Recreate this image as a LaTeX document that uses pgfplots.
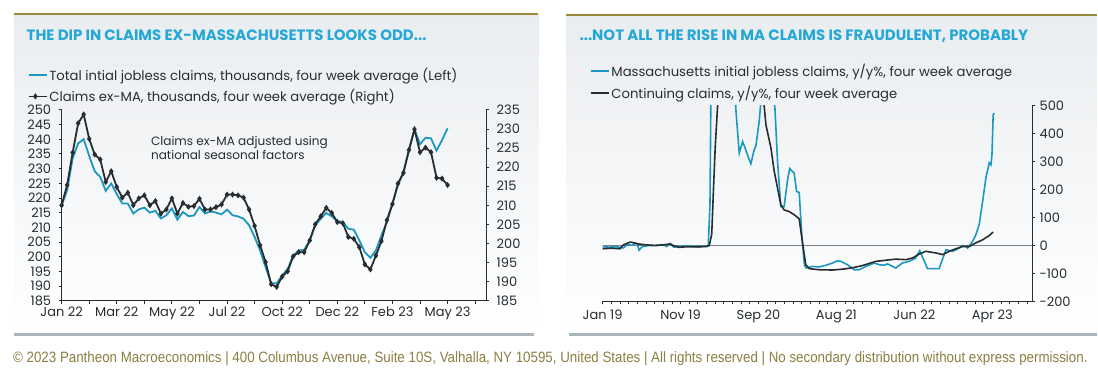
\documentclass[border=0pt]{standalone}
\usepackage{pgfplots}
\pgfplotsset{compat=1.18}
\usepackage{pgfplotstable}
\usepackage{fontspec}
\setmainfont{Poppins}
\newfontfamily\footfont[FakeStretch=0.89]{Liberation Sans}
\definecolor{mablue}{HTML}{1B98C0}
\definecolor{exma}{HTML}{272D31}
\definecolor{ttl}{HTML}{25A8D6}
\definecolor{olive}{HTML}{9A8B3C}
\definecolor{panel}{HTML}{EAEDF0}
\definecolor{rulec}{HTML}{A9B5BD}
\definecolor{foot}{HTML}{8C7F42}
\definecolor{zeroc}{HTML}{7B8085}

\pgfplotstableread{
k v
0 217.5
1 222.6
2 233.5
3 238.6
4 240.0
5 234.3
6 229.1
7 227.2
8 222.4
9 224.9
10 221.3
11 218.1
12 218.1
13 214.7
14 216.1
15 216.7
16 215.0
17 215.6
18 213.0
19 214.1
20 216.4
21 212.6
22 215.2
23 213.8
24 214.0
25 216.9
26 214.7
27 215.4
28 215.0
29 214.4
30 216.0
31 214.1
32 213.7
33 212.9
34 210.7
35 206.7
36 202.1
37 196.4
38 190.9
39 190.9
40 193.6
41 195.8
42 200.4
43 202.1
44 202.3
45 205.5
46 210.7
47 212.9
48 214.9
49 213.7
50 212.1
51 211.8
52 209.5
53 209.2
54 205.5
55 201.5
56 199.6
57 202.1
58 207.2
59 211.8
60 218.1
61 224.3
62 228.9
63 236.3
64 243.4
65 238.3
66 240.5
67 240.3
68 236.1
69 239.7
70 243.7
}\totaltab

\pgfplotstableread{
k v
0 210.0
1 215.3
2 223.8
3 231.5
4 233.8
5 227.4
6 223.3
7 222.0
8 216.1
9 218.9
10 214.8
11 212.0
12 213.3
13 210.0
14 211.8
15 212.6
16 210.0
17 211.1
18 207.8
19 208.9
20 211.8
21 207.8
22 210.6
23 209.6
24 209.8
25 211.7
26 208.9
27 208.9
28 209.5
29 210.2
30 212.8
31 212.8
32 212.6
33 212.0
34 208.9
35 204.6
36 199.5
37 195.1
38 189.3
39 188.6
40 191.3
41 192.7
42 196.6
43 197.7
44 197.7
45 200.8
46 205.0
47 207.1
48 209.3
49 208.0
50 205.6
51 205.3
52 201.7
53 201.2
54 199.0
55 194.5
56 193.2
57 196.8
58 200.6
59 206.1
60 210.3
61 215.7
62 218.5
63 224.5
64 229.9
65 223.9
66 225.1
67 223.9
68 217.2
69 217.0
70 215.3
}\exmatab

\pgfplotstableread{
w v
0 -5
4 -6
8 -5
12 -9
14 2
17 1
19 7
20 5
21 -17
23 -4
27 0
30 -1
35 2
37 -4
39 7
41 -6
45 -3
50 -2
55 -5
59 -3
61 -1
62 150
63 900
65 1500
70 1600
74 1000
75.5 700
77 480
78.9 330
80.8 371
82.3 348
84.3 312
85.6 292
87.5 342
88.5 355
90.4 443
92 560
95 620
98 560
99.5 490
101 300
102.9 139
104.8 139
106.8 235
108 275
110.6 258
112 193
113.5 189
115 40
116.5 -70
117.5 -81
121.2 -75
125 -77
128.9 -71
132.7 -63
135.6 -55
137.6 -57
141.4 -69
145.3 -87
148.1 -87
152 -75
156.8 -63
159.7 -69
162.6 -71
164.5 -66
169.3 -81
173.1 -63
177 -57
180.8 -45
183.1 -19
187.6 -83
194.3 -83
198.2 -15.5
202.1 -21
204 -15.5
205.9 -9.5
207.8 0
209.8 -3.6
210.7 -9.5
213.6 14
215.5 38
217.4 74
219.4 157
221.3 241
223.2 295
224.2 288
224.8 324
225.5 467
226.1 473
}\matab

\pgfplotstableread{
w v
0 -12
5 -10
10 -12
12 2
16 12
19 8
21 5
25 2
30 0
35 2
39 5
41 -1
44 -7
48 -5
55 -5
60 -4
61.6 0
63 40
64 200
65 350
66.4 500
68 750
75 1000
85 900
90 700
92.5 550
94.3 431
97.2 348
99.1 264
101 205
102.9 145
104.8 127
107.7 121
110.6 110
113.5 95
115.4 10
117.3 -69
119.3 -83
125 -87
132.7 -88
138.5 -85
144.3 -80
150 -72
157.8 -57
163.5 -53
169.3 -49
175.1 -51
178.9 -45
182.8 -31
186.6 -21
192.4 -27
196.3 -33
200.1 -21
204 -12
207.8 -4
211.7 -4
215.5 9
219.4 20
223.2 35
225.5 48
}\conttab

\pgfplotsset{
  every axis/.append style={
    scale only axis,
    tick align=outside,
    major tick length=3pt, minor tick length=3pt,
    axis line style={exma, line width=0.9pt, -},
    every tick/.style={exma, line width=0.8pt},
    ticklabel style={font=\fontsize{13}{15}\selectfont, text=exma},
    /pgf/number format/assume math mode=true,
    /pgf/number format/1000 sep={},
  },
  mylegend/.style={
    legend cell align=left,
    legend style={draw=none, fill=none, inner sep=0pt, row sep=5pt,
      font=\fontsize{13.2}{15}\selectfont, text=exma,
      nodes={inner sep=1.5pt}},
    legend image code/.code={\path (0pt,0pt) -- (18pt,0pt);\draw[mark repeat=2,mark phase=2,##1] plot coordinates {(0pt,0pt) (6.5pt,0pt) (13pt,0pt)};},
  },
}

\begin{document}
\begin{tikzpicture}[x=1pt,y=1pt]
\fill[white] (0,0) rectangle (1098,379);
% panels
\shade[top color=panel, bottom color=white] (14,365) rectangle (539,46);
\shade[top color=panel, bottom color=white] (567,364) rectangle (1098,46);
\draw[olive, line width=1.6pt] (14,365) -- (539,365);
\draw[olive, line width=1.6pt] (567,364) -- (1098,364);
\draw[rulec, line width=2.5pt] (14,44) -- (535,44);
\draw[rulec, line width=2.5pt] (570,44) -- (1098,44);
% titles
\node[anchor=west, inner sep=0pt, text=ttl, font=\bfseries\fontsize{15}{17}\selectfont] at (26.5,344) {THE DIP IN CLAIMS EX-MASSACHUSETTS LOOKS ODD...};
\node[anchor=west, inner sep=0pt, text=ttl, font=\bfseries\fontsize{15}{17}\selectfont] at (580,343) {...NOT ALL THE RISE IN MA CLAIMS IS FRAUDULENT, PROBABLY};
% footer
\node[text=foot, font=\footfont\fontsize{15}{17}\selectfont, inner sep=0pt] at (551,20) {\textcopyright{} 2023 Pantheon Macroeconomics | 400 Columbus Avenue, Suite 10S, Valhalla, NY 10595, United States | All rights reserved | No secondary distribution without express permission.};

% ---- left chart, left axis
\begin{axis}[
  width=425pt, height=191pt, at={(61.7pt,78pt)}, anchor=south west,
  xmin=0, xmax=77, ymin=185, ymax=250,
  axis x line*=bottom, axis y line*=left,
  xtick={0,10,...,70}, minor xtick={0,5,...,75},
  xticklabels={Jan 22,Mar 22,May 22,Jul 22,Oct 22,Dec 22,Feb 23,May 23},
  ytick={185,190,...,250},
  yticklabel style={xshift=-4pt},
  mylegend,
  legend style={at={(axis description cs:-0.08,1.23)}, anchor=north west},
]
\addlegendimage{mablue, line width=2pt}
\addlegendentry{Total intial jobless claims, thousands, four week average (Left)}
\addlegendimage{exma, line width=1.8pt, mark=diamond*, mark size=1.6pt}
\addlegendentry{Claims ex-MA, thousands, four week average (Right)}
\addplot[mablue, line width=1.8pt] table[x=k, y=v] {\totaltab};
\end{axis}
% ---- left chart, right axis
\begin{axis}[
  width=425pt, height=191pt, at={(61.7pt,78pt)}, anchor=south west,
  xmin=0, xmax=77, ymin=185, ymax=235,
  axis x line=none, axis y line*=right,
  ytick={185,190,...,235},
  yticklabel style={xshift=4pt},
]
\addplot[exma, line width=1.8pt, mark=diamond*, mark size=1.6pt] table[x=k, y=v] {\exmatab};
\end{axis}
\node[anchor=north west, align=left, inner sep=0pt, text=exma, font=\fontsize{12.1}{14.5}\selectfont] at (151,243) {Claims ex-MA adjusted using\\national seasonal factors};

% ---- right chart
\begin{axis}[
  width=430pt, height=196pt, at={(603.3pt,77.3pt)}, anchor=south west,
  xmin=0, xmax=248, ymin=-200, ymax=500,
  axis x line*=bottom, axis y line*=right,
  xtick={0,45,...,225}, minor xtick={0,5,...,245},
  xticklabels={Jan 19,Nov 19,Sep 20,Aug 21,Jun 22,Apr 23},
  xticklabel style={yshift=-2pt},
  ytick={-200,-100,...,500},
  yticklabel style={xshift=1pt},
  mylegend,
  legend style={at={(axis description cs:-0.03,1.22)}, anchor=north west},
]
\addlegendimage{mablue, line width=2pt}
\addlegendentry{Massachusetts initial jobless claims, y/y\%, four week average}
\addlegendimage{exma, line width=2pt}
\addlegendentry{Continuing claims, y/y\%, four week average}
\draw[zeroc, line width=0.9pt] (axis cs:0,0) -- (axis cs:248,0);
\addplot[mablue, line width=1.6pt] table[x=w, y=v] {\matab};
\addplot[exma, line width=1.6pt] table[x=w, y=v] {\conttab};
\end{axis}
\end{tikzpicture}
\end{document}
